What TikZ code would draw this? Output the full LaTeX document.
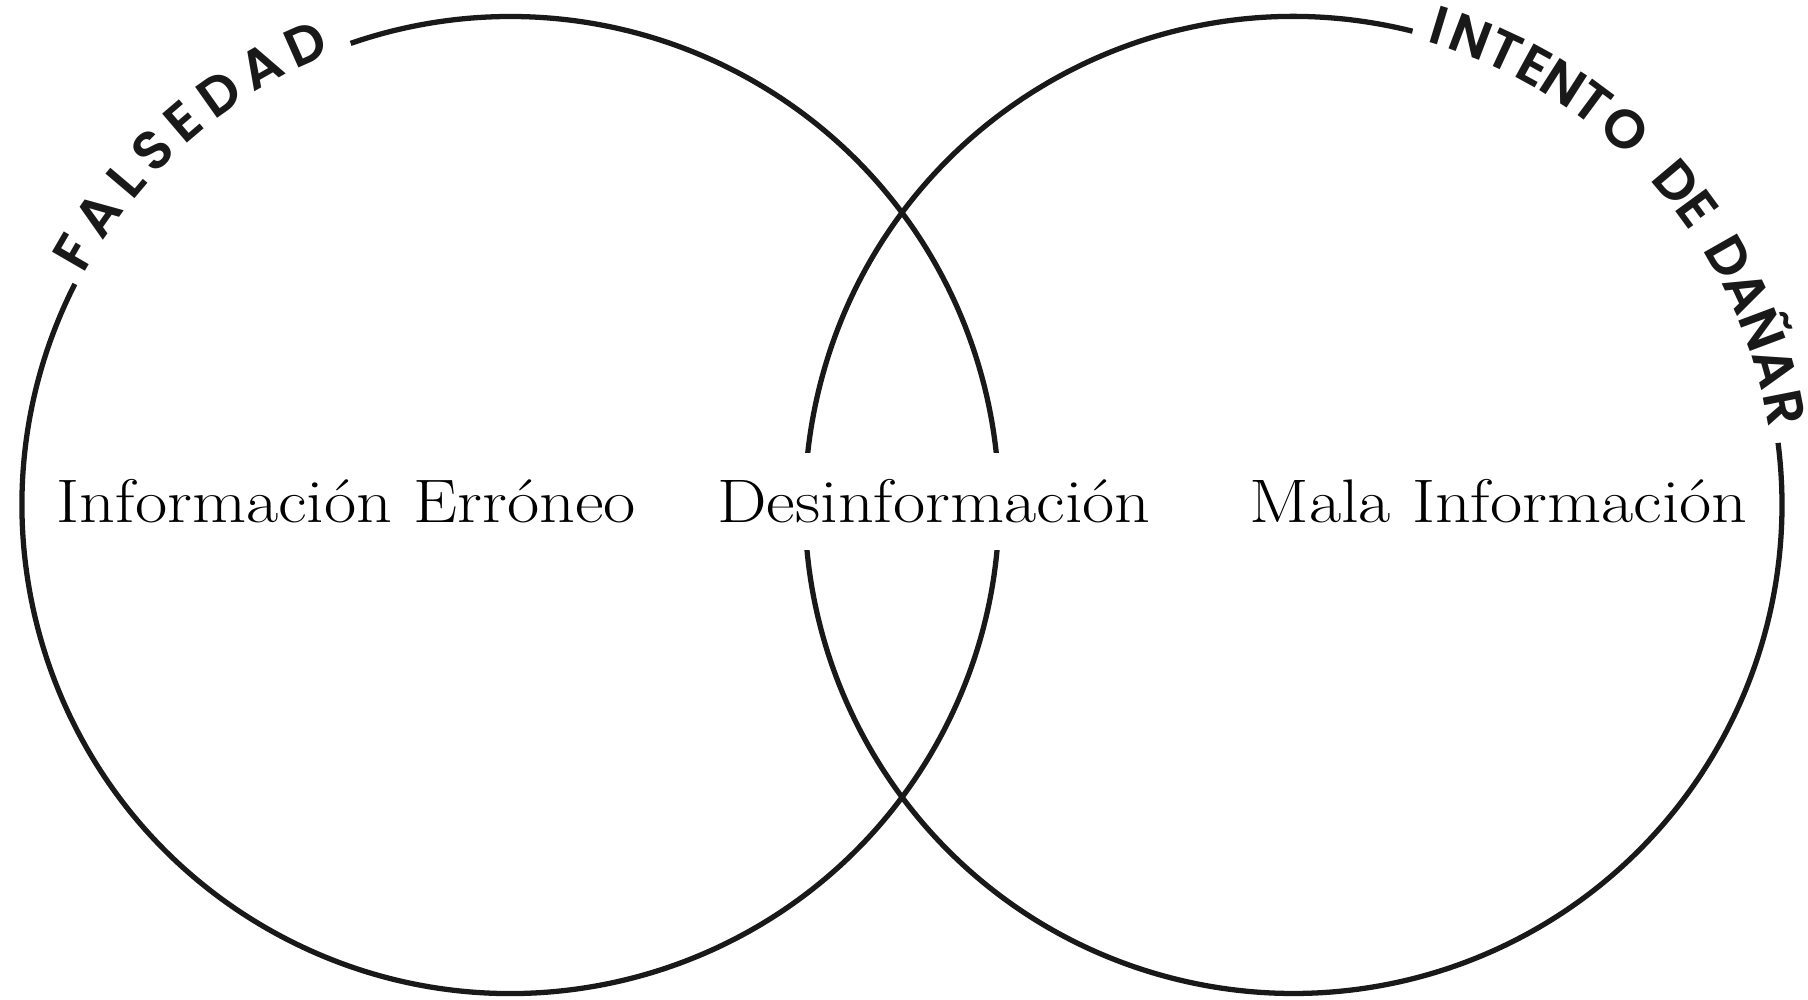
\documentclass[tikz,border=0pt]{standalone}
\usepackage{fontspec}
\setmainfont{Latin Modern Roman}[FakeStretch=1.14]
\newfontfamily\arcfont{Poppins SemiBold}
\usepackage{tikz}
\usetikzlibrary{positioning,calc}

\begin{document}
\begin{tikzpicture}[
		vennline/.style={line width=1.5pt,black!90},
		venntext/.style={font=\fontsize{17.5}{20}\selectfont,anchor=base,inner sep=0pt},
		arcletter/.style={font=\arcfont\fontsize{15.5}{16}\selectfont,anchor=base,inner sep=0pt,black!90}
	]
		\useasboundingbox (0,0) rectangle (18.08,10);
		\coordinate (fals) at (5.105,4.95);
		\coordinate (dan) at (12.935,4.95);
		
		\draw[vennline] ([shift={(153.1:4.885)}]fals) arc[start angle=153.1,end angle=469.1,radius=4.885];
		\draw[vennline] ([shift={(75.9:4.885)}]dan) arc[start angle=75.9,end angle=367.3,radius=4.885];
		
		\foreach \l/\a [count=\i] in {F/149.9,A/144.8,L/139.8,S/135.2,E/130.5,D/125.3,A/119.6,D/114.0}
			\node[arcletter,rotate=\a-90] (fal-\i) at ([shift={(\a:4.85)}]fals) {\l};
		\foreach \l/\a [count=\i] in {I/73.1,N/69.2,T/65.1,E/61.3,N/57.4,T/53.4,O/48.6,D/40.1,E/36.2,D/29.6,A/25.2,Ñ/20.5,A/15.9,R/11.2}
			\node[arcletter,rotate=\a-90] (dan-\i) at ([shift={(\a:4.82)}]dan) {\l};
		
		\node[venntext] (erroneo) at (3.465,4.77) {Información Erróneo};
		\node[venntext,fill=white,inner ysep=0.27cm,inner xsep=0.1cm] (desinf) at (9.34,4.77) {Desinformación};
		\node[venntext] (mala) at (14.985,4.77) {Mala Información};
	\end{tikzpicture}
\end{document}
